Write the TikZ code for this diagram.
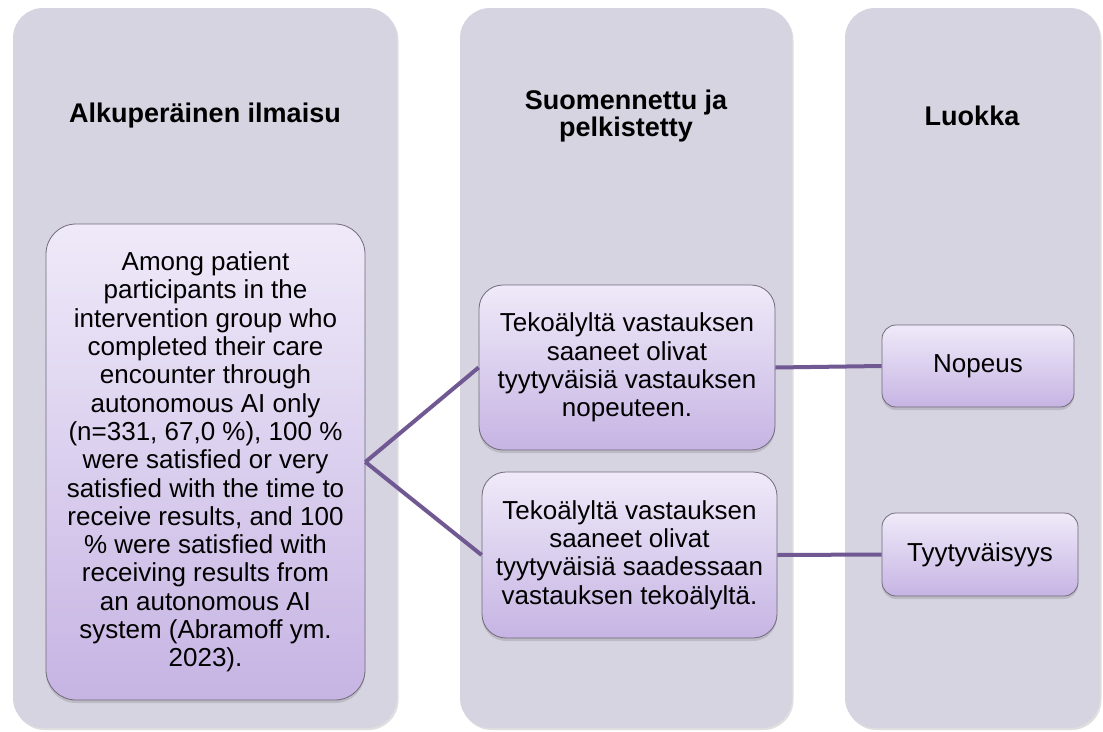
\documentclass[tikz,border=0pt]{standalone}
\usepackage{fontspec}
\setmainfont{Liberation Sans}
\usetikzlibrary{shadows}

\definecolor{panelgray}{RGB}{215,212,226}
\definecolor{boxtop}{RGB}{239,234,249}
\definecolor{boxbottom}{RGB}{198,180,227}
\definecolor{boxline}{RGB}{112,106,122}
\definecolor{linkpurple}{RGB}{112,88,146}

\tikzset{
  panel/.style={rectangle, rounded corners=30pt, fill=panelgray,
    drop shadow={opacity=0.25, shadow xshift=1.5pt, shadow yshift=-2pt}},
  head/.style={align=center, font=\fontsize{27}{27}\selectfont\bfseries},
  item/.style={rectangle, rounded corners=24pt, draw=boxline, line width=0.8pt,
    top color=boxtop, bottom color=boxbottom, align=center,
    font=\fontsize{26}{28.3}\selectfont,
    drop shadow={opacity=0.3, shadow xshift=0pt, shadow yshift=-3pt}},
  link/.style={draw=linkpurple, line width=4pt}
}

\begin{document}
\begin{tikzpicture}[x=1pt, y=-1pt]
  \useasboundingbox (0,0) rectangle (1103,731);
  % columns
  \node[panel, minimum width=384pt, minimum height=720pt] (col1) at (205,368) {};
  \node[panel, minimum width=332pt, minimum height=720pt] (col2) at (626,368) {};
  \node[panel, minimum width=255pt, minimum height=720pt] (col3) at (972.5,368) {};

  \node[head] (head1) at (205,116) {Alkuperäinen ilmaisu};
  \node[head] (head2) at (626,116.5) {Suomennettu ja\\pelkistetty};
  \node[head] (head3) at (972,116) {Luokka};

  % boxes
  \node[item, minimum width=319pt, minimum height=476pt, rounded corners=30pt] (orig) at (205.5,462)
    {Among patient\\participants in the\\intervention group who\\completed their care\\encounter through\\autonomous AI only\\(n=331, 67,0 \%), 100 \%\\were satisfied or very\\satisfied with the time to\\receive results, and 100\\\% were satisfied with\\receiving results from\\an autonomous AI\\system (Abramoff ym.\\2023).};
  \node[item, minimum width=296pt, minimum height=165pt] (simp1) at (627,367.5)
    {Tekoälyltä vastauksen\\saaneet olivat\\tyytyväisiä vastauksen\\nopeuteen.};
  \node[item, minimum width=295pt, minimum height=166pt] (simp2) at (629.5,555)
    {Tekoälyltä vastauksen\\saaneet olivat\\tyytyväisiä saadessaan\\vastauksen tekoälyltä.};
  \node[item, minimum width=192pt, minimum height=82pt, rounded corners=14pt] (cat1) at (978,366) {Nopeus};
  \node[item, minimum width=196pt, minimum height=83pt, rounded corners=14pt] (cat2) at (980,554.5) {Tyytyväisyys};

  % connectors
  \draw[link] (orig.east) -- (simp1.west);
  \draw[link] (orig.east) -- (simp2.west);
  \draw[link] (simp1.east) -- (cat1.west);
  \draw[link] (simp2.east) -- (cat2.west);
\end{tikzpicture}
\end{document}
